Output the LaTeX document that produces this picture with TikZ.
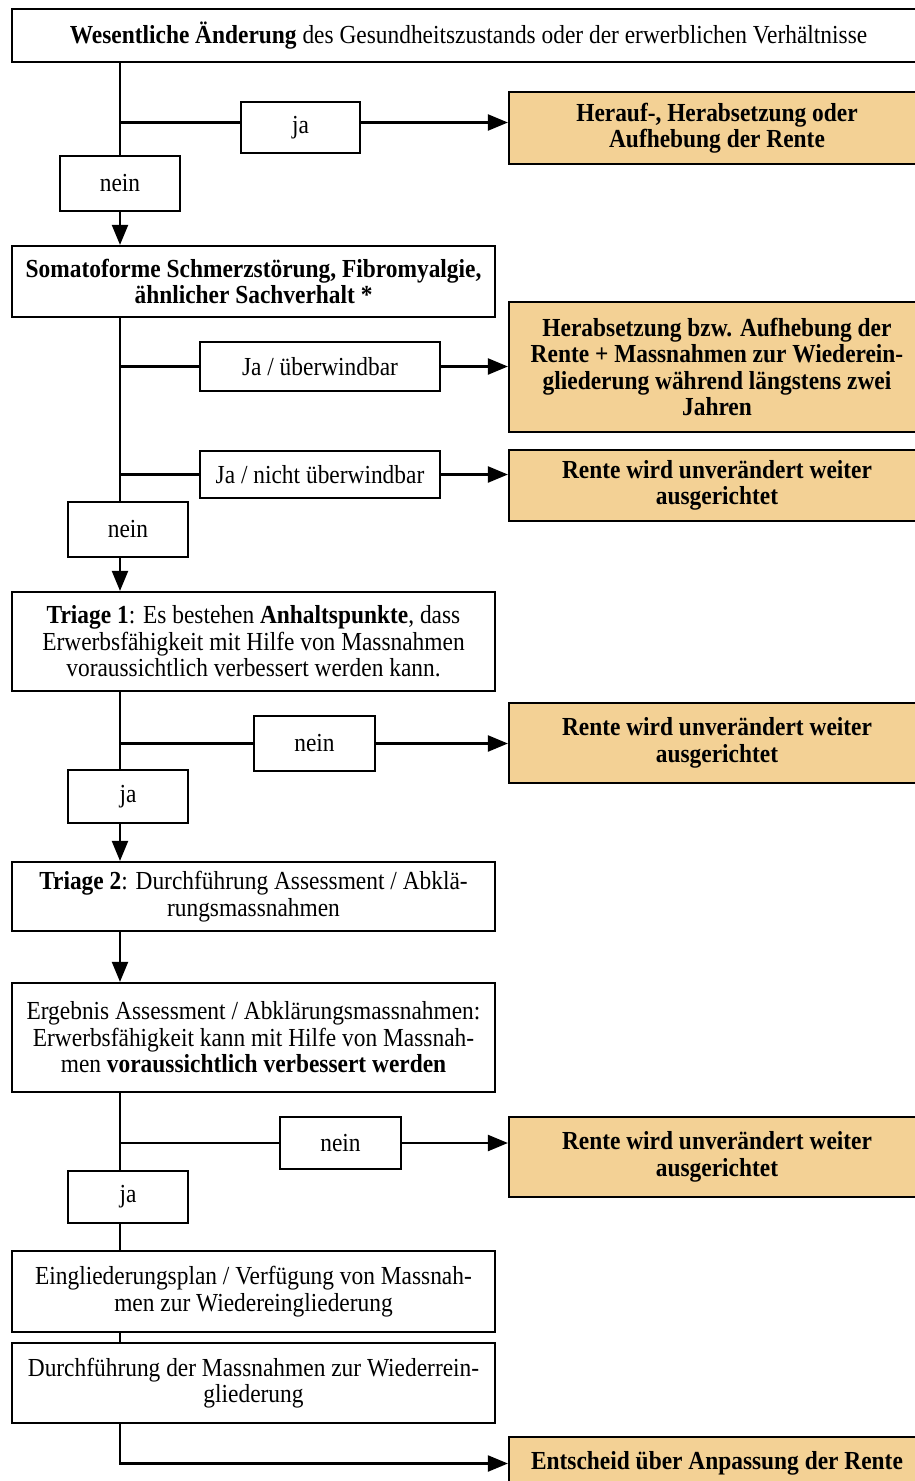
\documentclass[tikz,border=0pt]{standalone}
\usepackage{fontspec}
\setmainfont{Liberation Serif}[FakeStretch=0.9]
\usetikzlibrary{arrows.meta}
\definecolor{orangebox}{RGB}{243,209,149}
\begin{document}
\begin{tikzpicture}[x=1pt,y=-1pt,
  every node/.style={font=\fontsize{26}{26.5}\selectfont, align=center, inner sep=0pt},
  box/.style={draw=black, line width=2.2pt, fill=white},
  obox/.style={draw=black, line width=2.2pt, fill=orangebox, font=\fontsize{26}{26.5}\selectfont\bfseries},
  conn/.style={line width=2.2pt},
  arr/.style={line width=2.2pt, -{Triangle[length=20pt,width=16pt]}}
]
\path[use as bounding box] (0,0) rectangle (915,1481);
\clip (0,0) rectangle (915,1481);
\coordinate (mx) at (120,0);

% nodes
\node[box, minimum width=913pt, minimum height=53pt] (top) at (468.5,35.5)
  {\textbf{Wesentliche Änderung} des Gesundheitszustands oder der erwerblichen Verhältnisse};
\node[box, minimum width=119pt, minimum height=51pt] (ja1) at (300.5,127.5) {ja};
\node[obox, minimum width=416pt, minimum height=72pt] (o1) at (717,128)
  {Herauf-, Herabsetzung oder\\Aufhebung der Rente};
\node[box, minimum width=120pt, minimum height=55pt] (nein1) at (120,183.5) {nein};

\node[box, minimum width=483pt, minimum height=71pt, font=\fontsize{26}{26.5}\selectfont\bfseries] (soma) at (253.5,281.5)
  {Somatoforme Schmerzstörung, Fibromyalgie,\\ähnlicher Sachverhalt *};
\node[box, minimum width=240pt, minimum height=49pt] (jau) at (320,366.5) {Ja / überwindbar};
\node[obox, minimum width=416pt, minimum height=130pt] (o2) at (717,367)
  {Herabsetzung bzw. Aufhebung der\\Rente + Massnahmen zur Wiederein-\\gliederung während längstens zwei\\Jahren};
\node[box, minimum width=240pt, minimum height=47pt] (janu) at (320,474.5) {Ja / nicht überwindbar};
\node[obox, minimum width=416pt, minimum height=71pt] (o3) at (717,485.5)
  {Rente wird unverändert weiter\\ausgerichtet};
\node[box, minimum width=120pt, minimum height=55pt] (nein2) at (128,529.5) {nein};

\node[box, minimum width=483pt, minimum height=99pt] (t1) at (253.5,641.5)
  {\textbf{Triage 1}: Es bestehen \textbf{Anhaltspunkte}, dass\\Erwerbsfähigkeit mit Hilfe von Massnahmen\\voraussichtlich verbessert werden kann.};
\node[box, minimum width=121pt, minimum height=55pt] (nein3) at (314.5,743.5) {nein};
\node[obox, minimum width=416pt, minimum height=80pt] (o4) at (717,743)
  {Rente wird unverändert weiter\\ausgerichtet};
\node[box, minimum width=120pt, minimum height=53pt] (ja3) at (128,796.5) {ja};

\node[box, minimum width=483pt, minimum height=69pt] (t2) at (253.5,896.5)
  {\textbf{Triage 2}: Durchführung Assessment / Abklä-\\rungsmassnahmen};
\node[box, minimum width=483pt, minimum height=109pt] (erg) at (253.5,1037.5)
  {Ergebnis Assessment / Abklärungsmassnahmen:\\Erwerbsfähigkeit kann mit Hilfe von Massnah-\\men \textbf{voraussichtlich verbessert werden}};
\node[box, minimum width=121pt, minimum height=52pt] (nein4) at (340.5,1143) {nein};
\node[obox, minimum width=416pt, minimum height=80pt] (o5) at (717,1157)
  {Rente wird unverändert weiter\\ausgerichtet};
\node[box, minimum width=120pt, minimum height=52pt] (ja4) at (128,1197) {ja};

\node[box, minimum width=483pt, minimum height=81pt] (ein) at (253.5,1291.5)
  {Eingliederungsplan / Verfügung von Massnah-\\men zur Wiedereingliederung};
\node[box, minimum width=483pt, minimum height=80pt] (dur) at (253.5,1383)
  {Durchführung der Massnahmen zur Wiederrein-\\gliederung};
\node[obox, minimum width=416pt, minimum height=53pt] (o6) at (717,1463.5)
  {\raisebox{4pt}{Entscheid über Anpassung der Rente}};

% connectors
\coordinate (j1w) at ([yshift=5pt]ja1.west);
\coordinate (j1e) at ([yshift=5pt]ja1.east);
\draw[conn] (top.south -| mx) -- (nein1.north -| mx);
\draw[conn] (j1w -| mx) -- (j1w);
\draw[arr] (j1e) -- (j1e -| o1.west);
\draw[arr] (nein1.south -| mx) -- (soma.north -| mx);

\draw[conn] (soma.south -| mx) -- (nein2.north -| mx);
\draw[conn] (jau.west -| mx) -- (jau.west);
\draw[arr] (jau.east) -- (jau.east -| o2.west);
\draw[conn] (janu.west -| mx) -- (janu.west);
\draw[arr] (janu.east) -- (janu.east -| o3.west);
\draw[arr] (nein2.south -| mx) -- (t1.north -| mx);

\draw[conn] (t1.south -| mx) -- (ja3.north -| mx);
\draw[conn] (nein3.west -| mx) -- (nein3.west);
\draw[arr] (nein3.east) -- (nein3.east -| o4.west);
\draw[arr] (ja3.south -| mx) -- (t2.north -| mx);

\draw[arr] (t2.south -| mx) -- (erg.north -| mx);
\draw[conn] (erg.south -| mx) -- (ja4.north -| mx);
\draw[conn] (nein4.west -| mx) -- (nein4.west);
\draw[arr] (nein4.east) -- (nein4.east -| o5.west);

\draw[conn] (ja4.south -| mx) -- (ein.north -| mx);
\draw[conn] (ein.south -| mx) -- (dur.north -| mx);
\draw[arr] (dur.south -| mx) |- (o6.west);
\end{tikzpicture}
\end{document}
